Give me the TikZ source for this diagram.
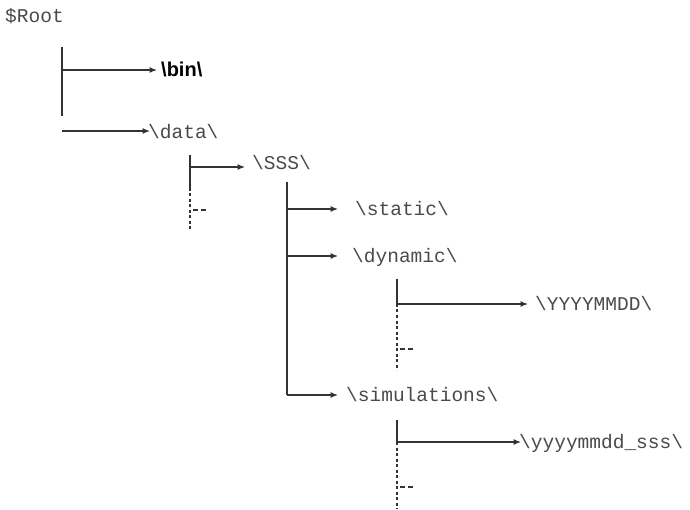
\documentclass[tikz,border=0pt]{standalone}
\usepackage{fontspec}
\setmonofont{Liberation Mono}
\newfontfamily\labelsans{Liberation Sans}
\usetikzlibrary{arrows.meta}
\definecolor{inkline}{HTML}{333333}
\definecolor{inktext}{HTML}{4A4A4A}
\tikzset{
  dirname/.style={anchor=mid west, inner sep=0pt, text=inktext,
    font=\fontsize{19.5}{22}\selectfont\ttfamily},
  binname/.style={anchor=mid west, inner sep=0pt, text=black,
    font=\fontsize{20}{22}\selectfont\labelsans\bfseries},
  trunk/.style={draw=inkline, line width=1.2pt},
  dots/.style={draw=inkline, line width=1.1pt, dash pattern=on 3pt off 2.5pt},
  stub/.style={draw=inkline, line width=1.1pt, dash pattern=on 5pt off 3pt},
  branch/.style={draw=inkline, line width=1.2pt,
    -{Latex[length=7.5pt,width=6pt]}},
}
\begin{document}
\begin{tikzpicture}[x=1pt, y=-1pt]
\useasboundingbox (0,0) rectangle (690,510);

% directory labels
\node[dirname] (root) at (5,20) {\$Root};
\node[binname] (bin) at (161,74) {\textbackslash bin\textbackslash};
\node[dirname] (data) at (148,136) {\textbackslash data\textbackslash};
\node[dirname] (sss) at (252,167) {\textbackslash SSS\textbackslash};
\node[dirname] (static) at (355,213) {\textbackslash static\textbackslash};
\node[dirname] (dynamic) at (352,260) {\textbackslash dynamic\textbackslash};
\node[dirname] (ymd) at (535,308) {\textbackslash YYYYMMDD\textbackslash};
\node[dirname] (sims) at (346,399) {\textbackslash simulations\textbackslash};
\node[dirname] (ymdsss) at (519,446) {\textbackslash yyyymmdd\_sss\textbackslash};

% level 1: under $Root
\coordinate (rtop) at (62,47);
\coordinate (rbot) at (62,116);
\coordinate (rbin) at (62,70);
\coordinate (rdata) at (62,131);
\draw[trunk] (rtop) -- (rbot);
\draw[branch, shorten >=4pt] (rbin) -- (rbin -| bin.west);
\draw[branch, shorten >=-2pt] (rdata) -- (rdata -| data.west);

% level 2: under \data\
\coordinate (dtop) at (190,155);
\coordinate (dsss) at (190,167);
\coordinate (dmid) at (190,188);
\coordinate (dbot) at (190,231);
\coordinate (dmore) at (193,210);
\coordinate (dmoreend) at (208,210);
\draw[trunk] (dtop) -- (dmid);
\draw[dots] (dmid) -- (dbot);
\draw[stub] (dmore) -- (dmoreend);
\draw[branch, shorten >=7pt] (dsss) -- (dsss -| sss.west);

% level 3: under \SSS\
\coordinate (stop) at (287,182);
\coordinate (sstatic) at (287,209);
\coordinate (sdyn) at (287,256);
\coordinate (ssim) at (287,395);
\draw[trunk] (stop) -- (ssim);
\draw[branch, shorten >=17pt] (sstatic) -- (sstatic -| static.west);
\draw[branch, shorten >=14pt] (sdyn) -- (sdyn -| dynamic.west);
\draw[branch, shorten >=8pt] (ssim) -- (ssim -| sims.west);

% level 4: under \dynamic\
\coordinate (ytop) at (397,279);
\coordinate (ybr) at (397,304);
\coordinate (ybot) at (397,370);
\coordinate (ymore) at (400,349);
\coordinate (ymoreend) at (415,349);
\draw[trunk] (ytop) -- (ybr);
\draw[dots] (ybr) -- (ybot);
\draw[stub] (ymore) -- (ymoreend);
\draw[branch, shorten >=7pt] (ybr) -- (ybr -| ymd.west);

% level 4: under \simulations\
\coordinate (mtop) at (397,420);
\coordinate (mbr) at (397,442);
\coordinate (mbot) at (397,509);
\coordinate (mmore) at (400,487);
\coordinate (mmoreend) at (415,487);
\draw[trunk] (mtop) -- (mbr);
\draw[dots] (mbr) -- (mbot);
\draw[stub] (mmore) -- (mmoreend);
\draw[branch, shorten >=-2pt] (mbr) -- (mbr -| ymdsss.west);
\end{tikzpicture}
\end{document}
